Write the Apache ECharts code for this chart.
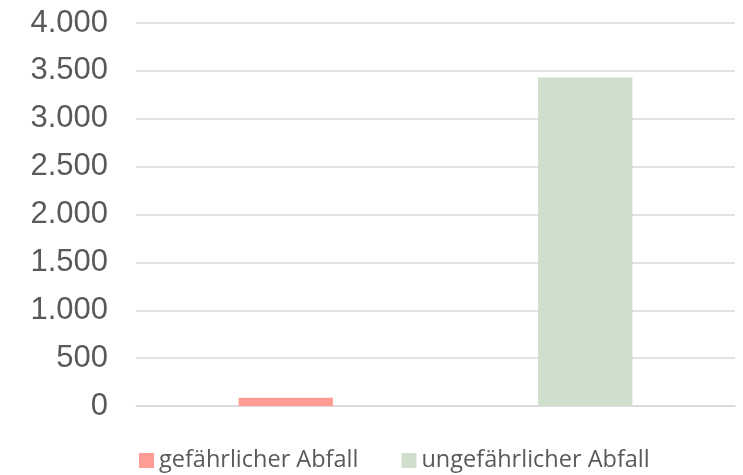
<!DOCTYPE html>
<html>
<head>
<meta charset="utf-8">
<script src="https://cdn.jsdelivr.net/npm/echarts@6/dist/echarts.min.js"></script>
<style>
  html, body { margin: 0; padding: 0; background: #fff; }
  #chart { width: 743px; height: 475px; }
</style>
</head>
<body>
<div id="chart"></div>
<script>
// Daten
const categories = ['gefährlicher Abfall', 'ungefährlicher Abfall']
const values = [85, 3430]
const colors = ['#FF9D94', '#D0DFCC']

const chart = echarts.init(document.getElementById('chart'))

// Tausendertrennzeichen mit Punkt
const fmt = (v) => String(v).replace(/\B(?=(\d{3})+(?!\d))/g, '.')

const option = {
  animation: false,
  grid: { left: 136, right: 8, top: 23, bottom: 69 },
  legend: {
    data: categories,
    top: 447,
    left: 139,
    padding: 0,
    itemWidth: 15,
    itemHeight: 15,
    itemGap: 43,
    icon: 'rect',
    textStyle: { color: '#595959', fontSize: 23.5, fontFamily: 'Open Sans', lineHeight: 27 },
  },
  xAxis: {
    type: 'category',
    data: categories,
    axisTick: { show: false },
    axisLabel: { show: false },
    axisLine: { lineStyle: { color: '#D9D9D9', width: 1.5 } },
  },
  yAxis: {
    type: 'value',
    min: 0,
    max: 4000,
    interval: 500,
    axisLine: { show: false },
    axisTick: { show: false },
    axisLabel: {
      color: '#595959',
      fontSize: 31,
      fontFamily: 'Liberation Sans',
      margin: 28,
      formatter: fmt,
    },
    splitLine: { lineStyle: { color: '#D9D9D9', width: 1.5 } },
  },
  series: categories.map((name, i) => ({
    name: name,
    type: 'bar',
    stack: 'all',
    barWidth: '31.5%',
    itemStyle: { color: colors[i] },
    data: categories.map((c, j) => (j === i ? values[i] : '-')),
  })),
}

chart.setOption(option)
</script>
</body>
</html>
